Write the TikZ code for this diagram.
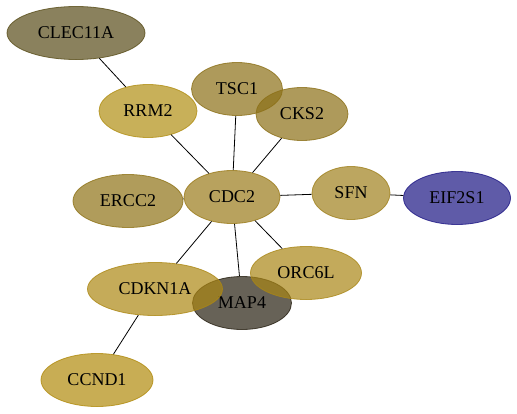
\documentclass[tikz,border=0pt]{standalone}
\usepackage{fontspec}
\setmainfont{Liberation Serif}
\usepackage{xcolor}
\usetikzlibrary{shapes.geometric}

\definecolor{clecC}{RGB}{88,76,24}
\definecolor{rrmC}{RGB}{176,142,19}
\definecolor{tscC}{RGB}{139,111,22}
\definecolor{cdcC}{RGB}{154,122,25}
\definecolor{sfnC}{RGB}{159,128,28}
\definecolor{erccC}{RGB}{142,114,22}
\definecolor{eifC}{RGB}{27,21,131}
\definecolor{cdknC}{RGB}{172,135,19}
\definecolor{mapC}{RGB}{38,31,16}
\definecolor{orcC}{RGB}{169,134,22}
\definecolor{ccndC}{RGB}{176,138,12}

\begin{document}
\begin{tikzpicture}[x=1pt, y=-1pt,
    gene/.style={ellipse, draw=#1, fill=#1, fill opacity=0.7, draw opacity=0.8,
                 text opacity=1, line width=0.8pt, inner sep=0pt,
                 minimum height=53pt, font=\fontsize{18}{20}\selectfont},
    link/.style={draw=black, line width=0.8pt}]
  \useasboundingbox (0,0) rectangle (517,413);

  \node[gene=clecC, minimum width=138pt] (clec) at (76,33)  {CLEC11A};
  \node[gene=rrmC,  minimum width=98pt]  (rrm)  at (148,111) {RRM2};
  \node[gene=tscC,  minimum width=91pt]  (tsc)  at (237,89)  {TSC1};
  \node[gene=tscC,  minimum width=92pt]  (cks)  at (302,114) {CKS2};
  \node[gene=erccC, minimum width=110pt] (ercc) at (128,201) {ERCC2};
  \node[gene=cdcC,  minimum width=96pt]  (cdc)  at (232,197) {CDC2};
  \node[gene=sfnC,  minimum width=78pt]  (sfn)  at (351,193) {SFN};
  \node[gene=eifC,  minimum width=107pt] (eif)  at (457,198) {EIF2S1};
  \node[gene=mapC,  minimum width=99pt]  (map)  at (242,303) {MAP4};
  \node[gene=cdknC, minimum width=135pt] (cdkn) at (155,289) {CDKN1A};
  \node[gene=orcC,  minimum width=111pt] (orc)  at (306,273) {ORC6L};
  \node[gene=ccndC, minimum width=112pt] (ccnd) at (97,380)  {CCND1};

  \draw[link] (clec) -- (rrm);
  \draw[link] (rrm) -- (cdc);
  \draw[link] (tsc) -- (cdc);
  \draw[link] (cks) -- (cdc);
  \draw[link] (ercc) -- (cdc);
  \draw[link] (cdc) -- (sfn);
  \draw[link] (sfn) -- (eif);
  \draw[link] (cdc) -- (cdkn);
  \draw[link] (cdc) -- (map);
  \draw[link] (cdc) -- (orc);
  \draw[link] (cdkn) -- (ccnd);
\end{tikzpicture}
\end{document}
